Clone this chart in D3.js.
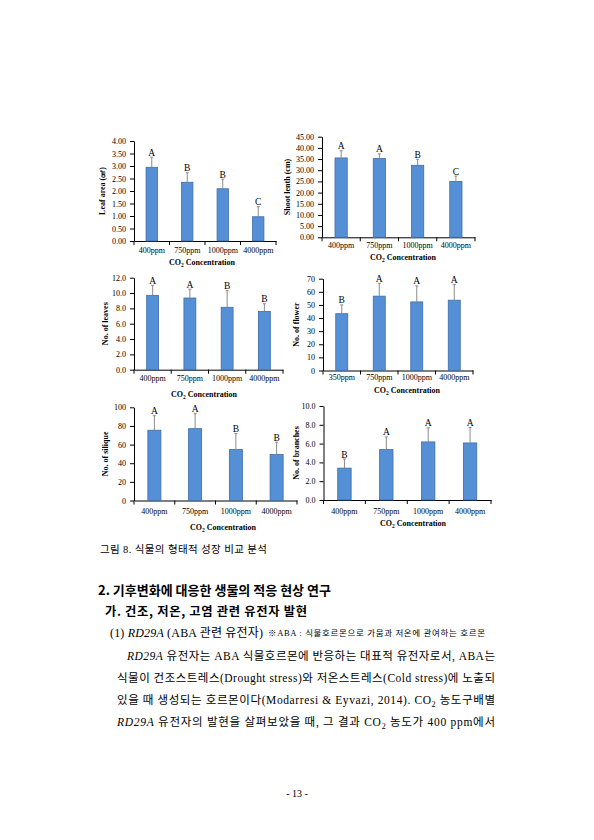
<!DOCTYPE html>
<html>
<head>
<meta charset="utf-8">
<script src="https://cdn.jsdelivr.net/npm/d3@7"></script>
<style>
  body { margin: 0; background: #fff; }
  svg { display: block; }
</style>
</head>
<body>
<div id="page"></div>
<script>
/**********************/
/******* data         */
/**********************/

const co2Levels = ["400ppm", "750ppm", "1000ppm", "4000ppm"];
const co2LevelsFlower = ["350ppm", "750ppm", "1000ppm", "4000ppm"];

const leafArea = [2.95, 2.35, 2.09, 0.97];
const leafAreaErr = [0.40, 0.38, 0.38, 0.40];
const leafAreaGroups = ["A", "B", "B", "C"];

const shootLength = [35.5, 35.2, 32.2, 25.0];
const shootLengthErr = [3.2, 2.1, 2.7, 2.4];
const shootLengthGroups = ["A", "A", "B", "C"];

const leafCount = [9.7, 9.35, 8.14, 7.6];
const leafCountErr = [1.3, 1.15, 2.16, 1.0];
const leafCountGroups = ["A", "A", "B", "B"];

const flowerCount = [43.3, 56.7, 52.3, 53.6];
const flowerCountErr = [6.7, 9.8, 12.2, 11.9];
const flowerCountGroups = ["B", "A", "A", "A"];

const siliqueCount = [75.4, 77.1, 54.6, 49.3];
const siliqueCountErr = [15.6, 16.1, 17.2, 13.2];
const siliqueCountGroups = ["A", "A", "B", "B"];

const branchCount = [3.39, 5.36, 6.18, 6.07];
const branchCountErr = [0.97, 1.35, 1.5, 1.64];
const branchCountGroups = ["B", "A", "A", "A"];

// page text
const captionText = "그림 8. 식물의 형태적 성장 비교 분석";
const sectionTitle = "2. 기후변화에 대응한 생물의 적응 현상 연구";
const subTitle = "가. 건조, 저온, 고염 관련 유전자 발현";
const itemTitle = [["(1) "], ["RD29A", "i"], [" (ABA 관련 유전자)"]];
const itemNote = "※ABA : 식물호르몬으로 가뭄과 저온에 관여하는 호르몬";
const bodyLines = [
    [["RD29A", "i"], [" 유전자는 ABA 식물호르몬에 반응하는 대표적 유전자로서, ABA는"]],
    [["식물이 건조스트레스(Drought stress)와 저온스트레스(Cold stress)에 노출되"]],
    [["있을 때 생성되는 호르몬이다(Modarresi & Eyvazi, 2014). CO"], ["2", "sub"], [" 농도구배별"]],
    [["RD29A", "i"], [" 유전자의 발현을 살펴보았을 때, 그 결과 CO"], ["2", "sub"], [" 농도가 400 ppm에서"]]
];
const pageNumber = "- 13 -";

/**********************/
/******* d3           */
/**********************/

const serif = "'Liberation Serif', 'Times New Roman', serif";
const bodyFont = "'Liberation Serif', 'Noto Sans CJK KR', serif";
const gothic = "'Noto Sans CJK KR', sans-serif";

const svg = d3.select("#page")
    .append("svg")
    .attr("width", 594)
    .attr("height", 840);

svg.append("rect").attr("width", 594).attr("height", 840).attr("fill", "#fff");

const charts = [
    { cats: co2Levels, values: leafArea, errs: leafAreaErr, groups: leafAreaGroups,
      max: 4, step: 0.5, fmt: ".2f", title: "Leaf area (㎠)",
      left: 134, right: 276, top: 141, bottom: 241, titleX: 105, xTitleX: 202, labelDy: 14, xTitleDy: 24 },
    { cats: co2Levels, values: shootLength, errs: shootLengthErr, groups: shootLengthGroups,
      max: 45, step: 5, fmt: ".2f", title: "Shoot lenth (cm)",
      left: 322, right: 475, top: 136.7, bottom: 237.3, titleX: 290, xTitleX: 403, labelDy: 13, xTitleDy: 23 },
    { cats: co2Levels, values: leafCount, errs: leafCountErr, groups: leafCountGroups,
      max: 12, step: 2, fmt: ".1f", title: "No. of leaves",
      left: 134, right: 283, top: 277.7, bottom: 369.7, titleX: 108, xTitleX: 204, labelDy: 13.5, xTitleDy: 27 },
    { cats: co2LevelsFlower, values: flowerCount, errs: flowerCountErr, groups: flowerCountGroups,
      max: 70, step: 10, fmt: "d", title: "No. of flower",
      left: 323, right: 473, top: 278.7, bottom: 370.5, titleX: 299, xTitleX: 407, labelDy: 12, xTitleDy: 22 },
    { cats: co2Levels, values: siliqueCount, errs: siliqueCountErr, groups: siliqueCountGroups,
      max: 100, step: 20, fmt: "d", title: "No. of silique",
      left: 134, right: 297, top: 407.3, bottom: 500.5, titleX: 108, xTitleX: 223, labelDy: 15.5, xTitleDy: 29 },
    { cats: co2Levels, values: branchCount, errs: branchCountErr, groups: branchCountGroups,
      max: 10, step: 2, fmt: ".1f", title: "No. of branches",
      left: 323.5, right: 491, top: 406, bottom: 500, titleX: 299, xTitleX: 413, labelDy: 16, xTitleDy: 26 }
];

function makeBarChart(cfg) {
    const chart = svg.append("g").attr("class", "chart");

    const x = d3.scaleBand()
        .domain(cfg.cats)
        .range([cfg.left, cfg.right])
        .paddingInner(0.68)
        .paddingOuter(0.34);

    const y = d3.scaleLinear()
        .domain([0, cfg.max])
        .range([cfg.bottom, cfg.top]);

    // y axis
    const yAxis = chart.append("g")
        .attr("transform", `translate(${cfg.left}, 0)`)
        .call(d3.axisLeft(y)
            .tickValues(d3.range(0, cfg.max + cfg.step / 2, cfg.step))
            .tickFormat(d3.format(cfg.fmt))
            .tickSizeInner(4)
            .tickSizeOuter(0)
            .tickPadding(4));
    yAxis.selectAll("text").style("font-family", serif).style("font-size", "8px").attr("fill", "#000");
    yAxis.selectAll("line").attr("stroke", "#000");
    yAxis.select(".domain").attr("stroke", "#000");

    // x axis with ticks on the category boundaries
    const xAxis = chart.append("g")
        .attr("transform", `translate(0, ${cfg.bottom})`)
        .call(d3.axisBottom(x).tickSize(0).tickPadding(cfg.labelDy - 8));
    xAxis.select(".domain").attr("stroke", "#000");
    xAxis.selectAll("text").style("font-family", serif).style("font-size", "8px").attr("fill", "#000");

    const edges = cfg.cats.map(c => x(c) - x.step() * x.paddingInner() / 2)
        .concat([cfg.right]);
    xAxis.selectAll(".edge")
        .data(edges)
        .enter()
        .append("line")
        .attr("class", "edge")
        .attr("x1", d => d).attr("x2", d => d)
        .attr("y1", 0).attr("y2", 4)
        .attr("stroke", "#000");

    // bars
    chart.selectAll(".bar")
        .data(cfg.values)
        .enter()
        .append("rect")
        .attr("class", "bar")
        .attr("x", (d, i) => x(cfg.cats[i]))
        .attr("y", d => y(d))
        .attr("width", x.bandwidth())
        .attr("height", d => cfg.bottom - y(d))
        .attr("fill", "#5590D6")
        .attr("stroke", "#3C6DA8")
        .attr("stroke-width", 0.8);

    // error bars (upper only)
    const cx = i => x(cfg.cats[i]) + x.bandwidth() / 2;
    chart.selectAll(".err")
        .data(cfg.values)
        .enter()
        .append("line")
        .attr("class", "err")
        .attr("x1", (d, i) => cx(i)).attr("x2", (d, i) => cx(i))
        .attr("y1", d => y(d))
        .attr("y2", (d, i) => y(d + cfg.errs[i]))
        .attr("stroke", "#8a8a8a")
        .attr("stroke-width", 1);

    chart.selectAll(".cap")
        .data(cfg.values)
        .enter()
        .append("line")
        .attr("class", "cap")
        .attr("x1", (d, i) => cx(i) - 1.5).attr("x2", (d, i) => cx(i) + 1.5)
        .attr("y1", (d, i) => y(d + cfg.errs[i]))
        .attr("y2", (d, i) => y(d + cfg.errs[i]))
        .attr("stroke", "#8a8a8a")
        .attr("stroke-width", 1);

    // significance letters
    chart.selectAll(".grp")
        .data(cfg.groups)
        .enter()
        .append("text")
        .attr("class", "grp")
        .attr("x", (d, i) => cx(i))
        .attr("y", (d, i) => y(cfg.values[i] + cfg.errs[i]) - 1.5)
        .attr("text-anchor", "middle")
        .style("font-family", serif)
        .style("font-size", "9.5px")
        .text(d => d);

    // axis titles
    const xt = chart.append("text")
        .attr("x", cfg.xTitleX)
        .attr("y", cfg.bottom + cfg.xTitleDy)
        .attr("text-anchor", "middle")
        .style("font-family", serif)
        .style("font-size", "8px")
        .style("font-weight", "bold");
    xt.append("tspan").text("CO");
    xt.append("tspan").attr("dy", 2).style("font-size", "5.5px").text("2");
    xt.append("tspan").attr("dy", -2).text(" Concentration");

    chart.append("text")
        .attr("transform", `translate(${cfg.titleX}, ${(cfg.top + cfg.bottom) / 2}) rotate(-90)`)
        .attr("text-anchor", "middle")
        .style("font-family", serif)
        .style("font-size", "8px")
        .style("font-weight", "bold")
        .text(cfg.title);
}

charts.forEach(makeBarChart);

/**********************/
/******* page text    */
/**********************/

function addRuns(textSel, runs) {
    let shifted = false;
    runs.forEach(r => {
        const t = textSel.append("tspan").text(r[0]);
        if (r[1] === "i") t.style("font-style", "italic");
        if (r[1] === "sub") {
            t.attr("dy", 3).style("font-size", "8px");
            shifted = true;
        } else if (shifted) {
            t.attr("dy", -3);
            shifted = false;
        }
    });
}

svg.append("text")
    .attr("x", 100).attr("y", 553)
    .attr("textLength", 167)
    .style("font-family", bodyFont).style("font-size", "10.5px")
    .text(captionText);

svg.append("text")
    .attr("x", 98).attr("y", 595)
    .style("font-family", gothic).style("font-size", "13px").style("font-weight", "bold")
    .text(sectionTitle);

svg.append("text")
    .attr("x", 105).attr("y", 615.5)
    .attr("textLength", 202)
    .style("font-family", gothic).style("font-size", "12.3px").style("font-weight", "bold")
    .text(subTitle);

const item = svg.append("text")
    .attr("x", 110).attr("y", 637)
    .attr("textLength", 153)
    .style("font-family", bodyFont).style("font-size", "12px");
addRuns(item, itemTitle);

svg.append("text")
    .attr("x", 268).attr("y", 636)
    .attr("textLength", 217)
    .style("font-family", bodyFont).style("font-size", "8.5px")
    .text(itemNote);

bodyLines.forEach((runs, i) => {
    const x0 = i === 0 ? 127 : 117;
    const t = svg.append("text")
        .attr("x", x0).attr("y", 660 + i * 22)
        .attr("textLength", 495 - x0)
        .style("font-family", bodyFont).style("font-size", "11.5px");
    addRuns(t, runs);
});

svg.append("text")
    .attr("x", 297).attr("y", 797)
    .attr("text-anchor", "middle")
    .style("font-family", bodyFont).style("font-size", "10px")
    .text(pageNumber);
</script>
</body>
</html>
